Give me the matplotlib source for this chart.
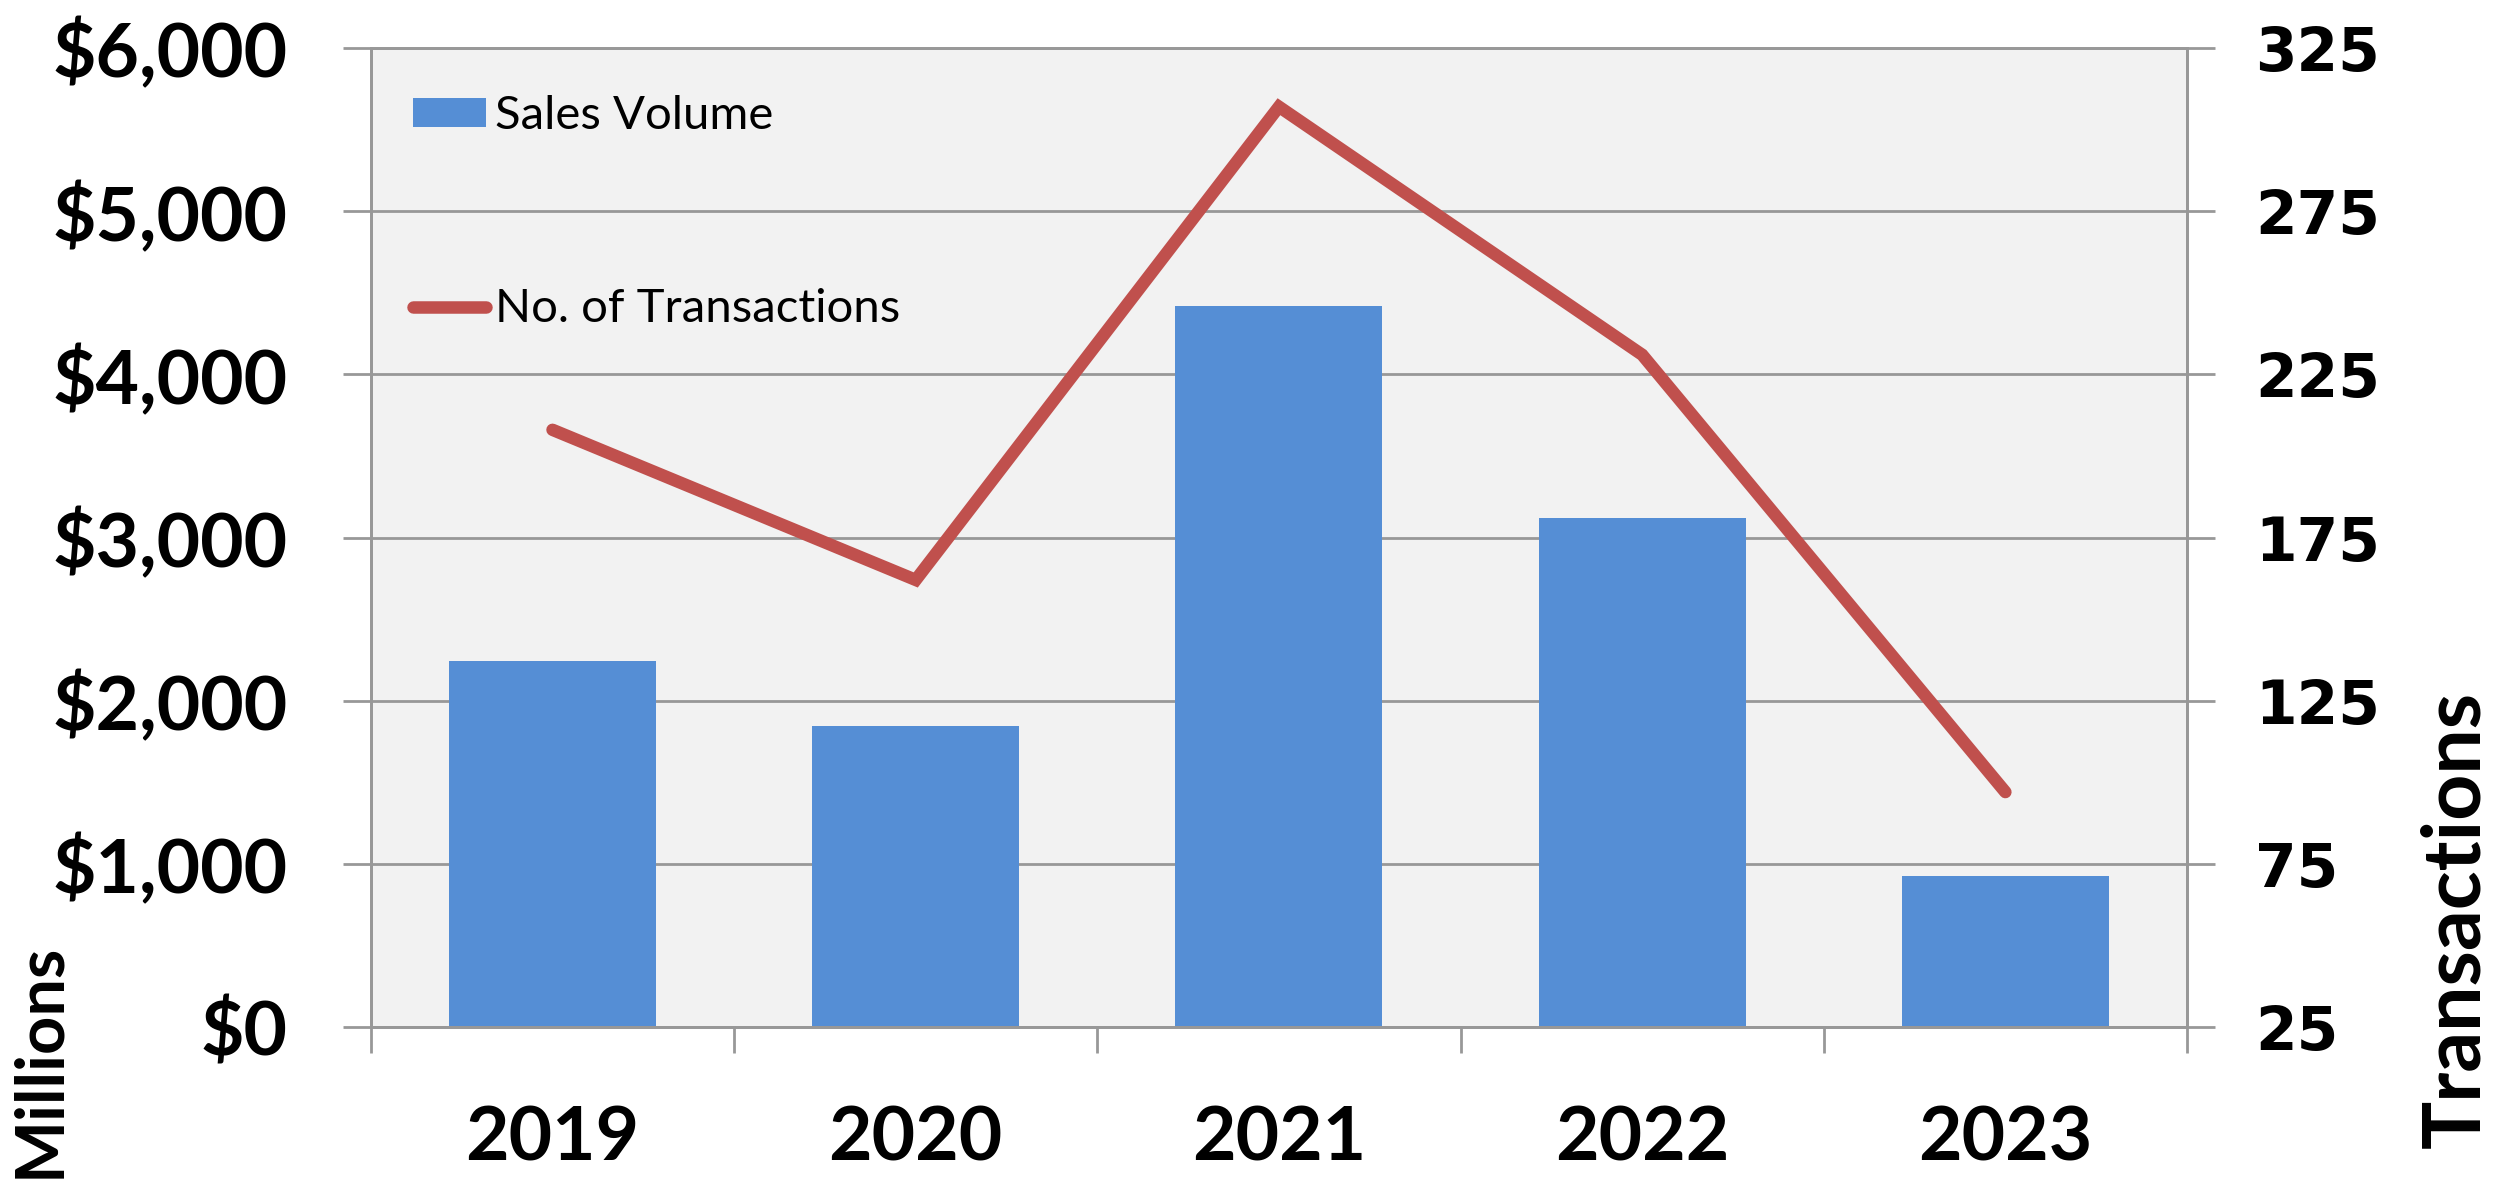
import numpy as np
import matplotlib
matplotlib.use("Agg")
from matplotlib import pyplot as plt
from matplotlib.ticker import FixedLocator, FuncFormatter

plt.rcParams['font.family'] = ['Lato', 'DejaVu Sans']

years = ['2019', '2020', '2021', '2022', '2023']
sales_volume = [2245, 1845, 4420, 3120, 925]      # $ millions
transactions = [208, 162, 307, 231, 97]

sales_ticks = [0, 1000, 2000, 3000, 4000, 5000, 6000]
trans_ticks = [25, 75, 125, 175, 225, 275, 325]

bar_color = '#558ED5'
line_color = '#C0504D'
grid_color = '#989898'

fig = plt.figure(figsize=(24.96, 11.82), dpi=100)
ax = fig.add_axes([0.1486, 0.1311, 0.7276, 0.8283])
ax.set_facecolor('#F2F2F2')

x = np.arange(len(years))
bars = ax.bar(x, sales_volume, width=0.57, color=bar_color, zorder=2,
              label='Sales Volume')

ax.set_xlim(-0.5, len(years) - 0.5)
ax.set_ylim(sales_ticks[0], sales_ticks[-1])
ax.set_yticks(sales_ticks)
ax.yaxis.set_major_formatter(FuncFormatter(lambda v, p: '${:,.0f}'.format(v)))
ax.set_axisbelow(True)
ax.grid(axis='y', color=grid_color, lw=2)

# year labels sit between the category boundary ticks
ax.set_xticks(x)
ax.set_xticklabels(years)
ax.xaxis.set_minor_locator(FixedLocator(np.arange(-0.5, len(years), 1.0)))
ax.tick_params(axis='x', which='major', length=0, pad=56, labelsize=54)
ax.tick_params(axis='x', which='minor', length=19, width=2, color=grid_color)
ax.tick_params(axis='y', length=20, width=2, color=grid_color, pad=40,
               labelsize=54)
for lbl in ax.get_xticklabels() + ax.get_yticklabels():
    lbl.set_fontweight('bold')

for side in ['left', 'bottom', 'right', 'top']:
    ax.spines[side].set_color(grid_color)
    ax.spines[side].set_linewidth(2)

ax2 = ax.twinx()
line, = ax2.plot(x, transactions, color=line_color, lw=9,
                 solid_capstyle='round', solid_joinstyle='miter',
                 label='No. of Transactions')
ax2.set_ylim(trans_ticks[0], trans_ticks[-1])
ax2.set_yticks(trans_ticks)
ax2.tick_params(axis='y', length=20, width=2, color=grid_color, pad=29)
for lbl in ax2.get_yticklabels():
    lbl.set_fontfamily('DejaVu Sans')
    lbl.set_fontweight('bold')
    lbl.set_fontsize(43)
for side in ['left', 'bottom', 'right', 'top']:
    ax2.spines[side].set_color(grid_color)
    ax2.spines[side].set_linewidth(2)

ax2.legend([bars, line], ['Sales Volume', 'No. of Transactions'],
           loc='upper left', bbox_to_anchor=(0.023, 0.952),
           frameon=False, fontsize=34, borderaxespad=0, borderpad=0,
           labelspacing=3.2, handlelength=1.55, handleheight=0.55,
           handletextpad=0.2)

fig.text(0.016, 0.103, 'Millions', rotation=90, fontsize=48,
         fontweight='bold', ha='center', va='center')
fig.text(0.984, 0.222, 'Transactions', rotation=90, fontsize=58,
         fontweight='bold', ha='center', va='center')

fig.savefig('out.png', dpi=100)
